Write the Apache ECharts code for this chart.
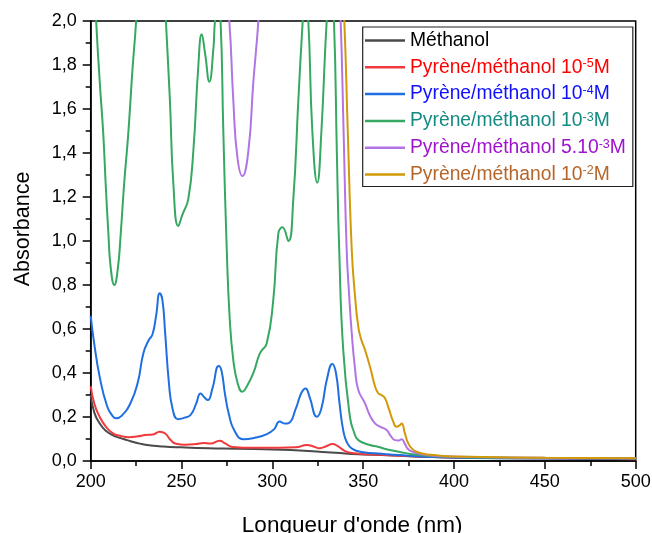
<!DOCTYPE html>
<html>
<head>
<meta charset="utf-8">
<script src="https://cdn.jsdelivr.net/npm/echarts@6/dist/echarts.min.js"></script>
<style>
html,body{margin:0;padding:0;background:#fff;}
#chart{width:652px;height:533px;}
</style>
</head>
<body>
<div id="chart"></div>
<script>
// ---- data (wavelength nm, absorbance) ----
var methanolX = [200,202,205,208,212,216,220,225,231,240,250,265,280,300,315,330,340,350,360,375,400,450,500];
var methanolY = [0.30,0.22,0.17,0.14,0.118,0.105,0.095,0.083,0.073,0.066,0.062,0.058,0.056,0.052,0.048,0.040,0.034,0.030,0.027,0.022,0.016,0.012,0.010];

var pyr5X = [200,202,205,208,212,216,221,226,230,234,238,241,244,247,252,258,262,266,271,274,278,290,304,313,319,323,326,330,333,336,340,345,355,370,400,450,500];
var pyr5Y = [0.34,0.26,0.20,0.16,0.127,0.115,0.108,0.112,0.118,0.120,0.133,0.125,0.095,0.078,0.074,0.077,0.082,0.079,0.092,0.080,0.064,0.060,0.060,0.062,0.073,0.065,0.058,0.068,0.077,0.068,0.045,0.035,0.030,0.024,0.016,0.012,0.008];

var pyr4X = [200,202,205,209,212,214,217,222,226,229,232,234,236,238,239.5,241,243,245,248,251,255,258,260.5,262.5,264.5,267,270.5,272,274,276,279,284,290,297,301,304,307,309,313,316,318.3,320.5,324.5,327,330,333,335,337,339,341,344,350,360,370,390,425,500];
var pyr4Y = [0.66,0.53,0.38,0.25,0.205,0.194,0.205,0.265,0.36,0.49,0.55,0.575,0.66,0.762,0.73,0.58,0.36,0.24,0.19,0.195,0.21,0.26,0.307,0.29,0.277,0.33,0.432,0.41,0.30,0.215,0.14,0.099,0.105,0.122,0.145,0.179,0.170,0.172,0.24,0.31,0.33,0.29,0.201,0.24,0.37,0.441,0.40,0.26,0.14,0.085,0.055,0.040,0.033,0.027,0.018,0.012,0.010];

var pyr3X = [200,203,205,206.9,208.3,209.7,211,213,215,216.5,218.5,220.7,223,225,229,234,238,241.4,243.6,245.5,248.2,250.5,253.7,256.5,259.2,261.1,263,265.3,267.5,268.4,270,271.5,273,274.9,276.5,278.5,281,283.5,286,289.5,293.2,296.9,300.5,303.3,305.5,308.8,311.5,314.3,316.7,318,319.8,322,324.7,327,329.9,332,333.9,335.5,336.8,339,342.7,345,347.3,353.7,358,362.9,366,370.3,375.8,388.6,420,500];
var pyr3Y = [2.5,2.0,1.72,1.49,1.25,1.04,0.88,0.80,0.88,1.03,1.27,1.49,1.78,2.0,2.6,2.9,2.6,2.0,1.64,1.26,1.068,1.12,1.19,1.41,1.79,1.94,1.85,1.724,1.87,2.0,2.1,2.0,1.5,0.96,0.65,0.459,0.35,0.315,0.34,0.399,0.49,0.535,0.732,1.035,1.062,1.0,1.186,1.64,2.0,2.15,2.0,1.5,1.265,1.5,2.0,2.2,2.0,1.4,0.96,0.505,0.20,0.13,0.095,0.073,0.065,0.053,0.048,0.041,0.032,0.022,0.015,0.012];

var pyr53X = [200,240,265,272,276.3,278.5,280.7,283.5,286.8,289.5,292.3,296,310,330,335,337.6,339.2,340.9,342.3,343.7,345.5,347.3,351,353.5,356.5,359.5,362.9,365,367.5,369.5,371.2,372.8,374.8,378,381.3,392,450,500];
var pyr53Y = [3.0,3.0,2.8,2.4,2.0,1.64,1.383,1.295,1.41,1.72,2.0,2.5,3.0,3.0,2.5,2.0,1.5,0.96,0.75,0.58,0.42,0.323,0.262,0.21,0.171,0.155,0.141,0.115,0.095,0.093,0.099,0.08,0.053,0.04,0.032,0.022,0.015,0.012];

var pyr2X = [200,330,336,339.6,341.5,343.7,345.5,347.3,349,351,354,356.5,358.3,360,362,364,366.5,368.3,370,371.2,372.8,374.8,377,379.4,383,388.6,400,450,500];
var pyr2Y = [3.0,3.0,2.6,2.0,1.5,0.96,0.75,0.61,0.55,0.505,0.42,0.34,0.308,0.30,0.285,0.24,0.18,0.156,0.162,0.171,0.13,0.08,0.055,0.042,0.033,0.027,0.020,0.015,0.012];

// ---- labels ----
var legendBase = ['Méthanol','Pyrène/méthanol 10','Pyrène/méthanol 10','Pyrène/méthanol 10','Pyrène/méthanol 5.10','Pyrène/méthanol 10'];
var legendSup  = ['','-5','-4','-3','-3','-2'];
var legendTail = ['','M','M','M','M','M'];
var xTitle = "Longueur d'onde (nm)";
var yTitle = 'Absorbance';

// ---- styles ----
var lineColors = ['#4a4a4a','#f03a3c','#1f6fe0','#36a862','#b274e4','#d29a08'];
var textColors = ['#000000','#ff0000','#1010ff','#138a82','#a012cc','#b5652a'];
var FONT = "'Liberation Sans', Arial, sans-serif";

function pairs(xs, ys){ return xs.map(function(x,i){ return [x, ys[i]]; }); }
var seriesX = [methanolX,pyr5X,pyr4X,pyr3X,pyr53X,pyr2X];
var seriesY = [methanolY,pyr5Y,pyr4Y,pyr3Y,pyr53Y,pyr2Y];
var names = legendBase.map(function(b,i){ return b + legendSup[i] + legendTail[i]; });

var rich = {};
names.forEach(function(n,i){
  rich['t'+i] = {color:textColors[i], fontSize:19.3, lineHeight:20, fontFamily:FONT};
  rich['s'+i] = {color:textColors[i], fontSize:12.5, lineHeight:12, verticalAlign:'top', fontFamily:FONT};
});

var series = names.map(function(n,i){
  return {
    name:n, type:'line', data:pairs(seriesX[i], seriesY[i]),
    showSymbol:false, smooth:0.5, clip:true,
    lineStyle:{color:lineColors[i], width:2}, itemStyle:{color:lineColors[i]},
    animation:false
  };
});

var chart = echarts.init(document.getElementById('chart'), null, {renderer:'canvas'});
chart.setOption({
  backgroundColor:'#ffffff',
  animation:false,
  grid:{left:90.7, right:16.3, top:21, bottom:72, outerBoundsMode:'none', containLabel:false,
        show:true, borderColor:'#000', borderWidth:1.5, backgroundColor:'transparent'},
  legend:{
    orient:'vertical', left:362.7, top:27,
    padding:[3.5,7,2,2.3], itemGap:6.8, itemWidth:40, itemHeight:2.5, itemTextGap:10.5,
    icon:'rect', backgroundColor:'#fff', borderColor:'#222', borderWidth:1.2,
    data: names.map(function(n,i){ return {name:n, itemStyle:{color:lineColors[i]}}; }),
    textStyle:{fontFamily:FONT, fontSize:19.3, lineHeight:20, rich:rich},
    formatter:function(name){
      var i = names.indexOf(name);
      var s = '{t'+i+'|'+legendBase[i]+'}';
      if(legendSup[i]) s += '{s'+i+'|'+legendSup[i]+'}{t'+i+'|'+legendTail[i]+'}';
      return s;
    }
  },
  xAxis:{
    type:'value', min:200, max:500, interval:50,
    name:xTitle, nameLocation:'middle', nameGap:53,
    nameTextStyle:{fontFamily:FONT, fontSize:22.5, color:'#000', padding:[0,22,0,0]},
    axisLine:{show:true, onZero:false, lineStyle:{color:'#000', width:1.5}},
    axisTick:{show:true, inside:false, length:8, lineStyle:{color:'#000', width:1.5}},
    minorTick:{show:true, splitNumber:2, length:5, lineStyle:{color:'#000', width:1.5}},
    axisLabel:{fontFamily:FONT, fontSize:18, color:'#000', margin:12},
    splitLine:{show:false}
  },
  yAxis:{
    type:'value', min:0, max:2, interval:0.2,
    name:yTitle, nameLocation:'middle', nameGap:57, nameRotate:90,
    nameTextStyle:{fontFamily:FONT, fontSize:21.5, color:'#000', padding:[0,0,0,24]},
    axisLine:{show:true, onZero:false, lineStyle:{color:'#000', width:1.5}},
    axisTick:{show:true, inside:false, length:8, lineStyle:{color:'#000', width:1.5}},
    minorTick:{show:true, splitNumber:2, length:5, lineStyle:{color:'#000', width:1.5}},
    axisLabel:{fontFamily:FONT, fontSize:18, color:'#000', margin:14,
      formatter:function(v){ return v.toFixed(1).replace('.', ','); }},
    splitLine:{show:false}
  },
  series:series
});
</script>
</body>
</html>
